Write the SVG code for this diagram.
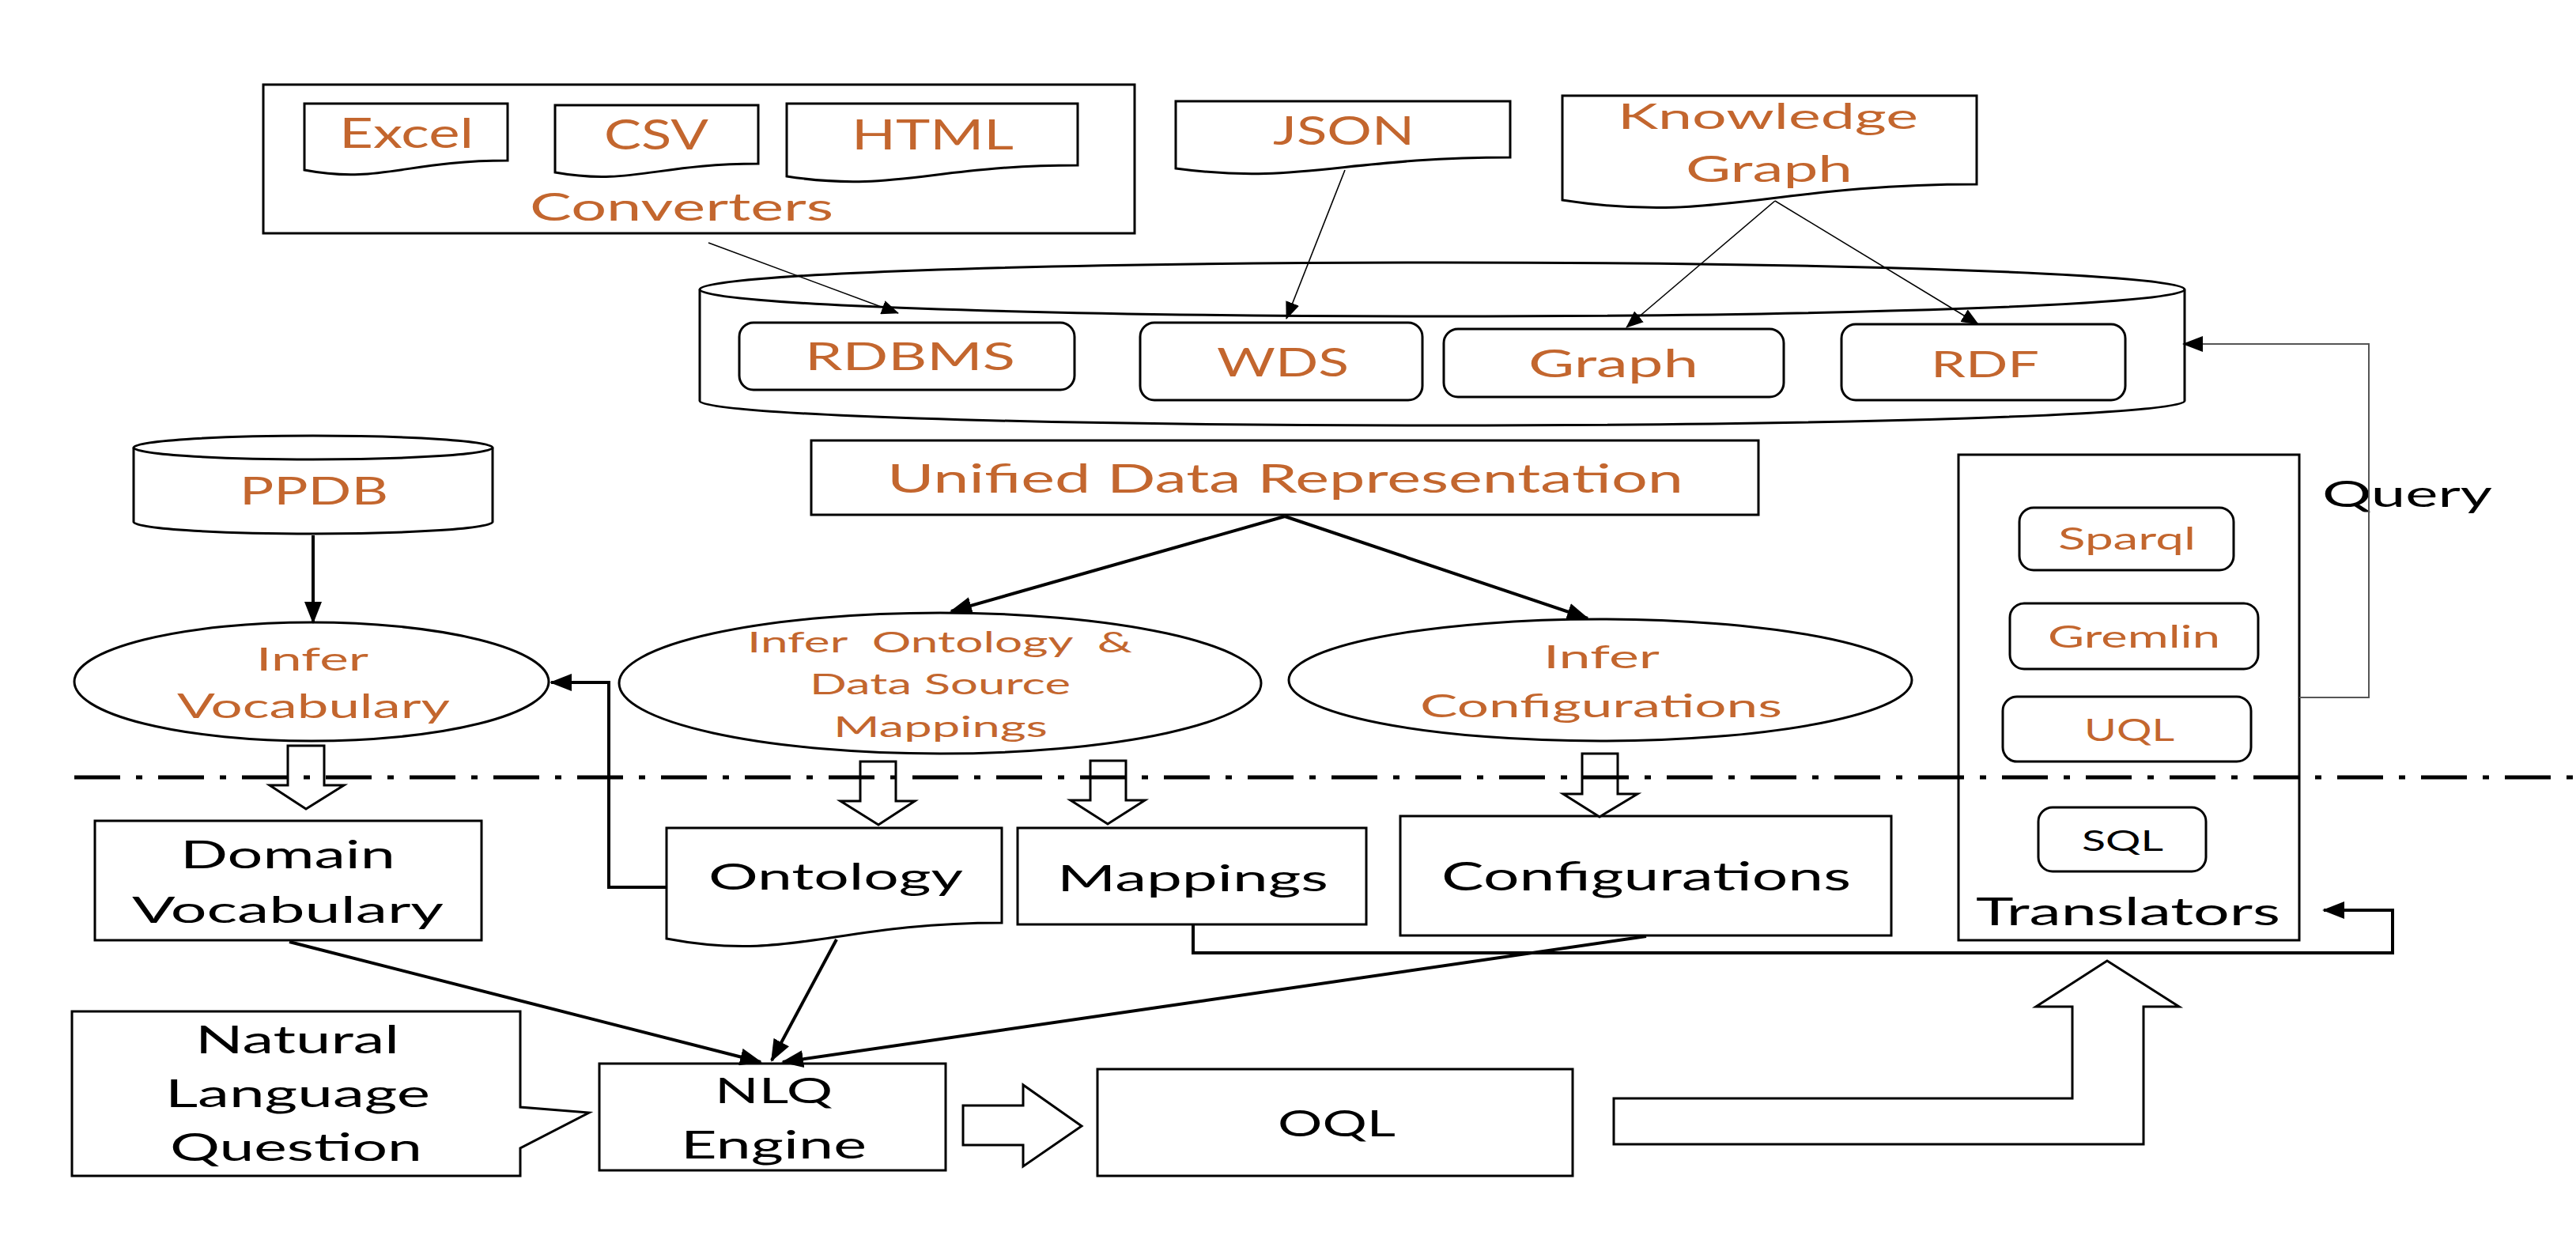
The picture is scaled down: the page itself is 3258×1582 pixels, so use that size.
<svg xmlns="http://www.w3.org/2000/svg" width="3258" height="1582" viewBox="0 0 3258 1582">
<style>
text { font-family: Lato, "Liberation Sans", sans-serif; }
.o { fill: #C3662E; }
.k { fill: #000; }
.s { fill: #fff; stroke: #000; stroke-width: 3; }
.c { fill: none; stroke: #000; stroke-width: 1.6; }
.t { fill: none; stroke: #000; stroke-width: 4; }
.q { fill: none; stroke: #555; stroke-width: 2; }
.dd { fill: none; stroke: #000; stroke-width: 5; stroke-dasharray: 58 20 8 20; }
</style>
<defs>
<marker id="ah" markerWidth="22" markerHeight="18" refX="21" refY="9" orient="auto" markerUnits="userSpaceOnUse"><path d="M0,0 L22,9 L0,18 z" fill="#000"/></marker>
<marker id="ahq" markerWidth="26" markerHeight="20" refX="25" refY="10" orient="auto" markerUnits="userSpaceOnUse"><path d="M0,0 L26,10 L0,20 z" fill="#000"/></marker>
<marker id="aht" markerWidth="28" markerHeight="22" refX="26" refY="11" orient="auto" markerUnits="userSpaceOnUse"><path d="M0,0 L28,11 L0,22 z" fill="#000"/></marker>
</defs>

<g id="converters">
<rect class="s" x="333" y="107" width="1102" height="188"/>
<text class="o" x="670" y="279" font-size="49" textLength="384" lengthAdjust="spacingAndGlyphs">Converters</text>
</g>
<g id="excel">
<path class="s" d="M385,131 H642 V203 C514,203 480,233 385,215 Z"/>
<text class="o" x="429" y="187" font-size="52" textLength="170" lengthAdjust="spacingAndGlyphs">Excel</text>
</g>
<g id="csv">
<path class="s" d="M702,133 H959 V207 C831,207 797,235 702,218 Z"/>
<text class="o" x="764" y="189" font-size="52" textLength="132" lengthAdjust="spacingAndGlyphs">CSV</text>
</g>
<g id="html">
<path class="s" d="M995,131 H1363 V209 C1179,209 1131,244 995,223 Z"/>
<text class="o" x="1077" y="189" font-size="52" textLength="205" lengthAdjust="spacingAndGlyphs">HTML</text>
</g>
<g id="json">
<path class="s" d="M1487,128 H1910 V199 C1698,199 1643,234 1487,213 Z"/>
<text class="o" x="1610" y="183" font-size="50" textLength="179" lengthAdjust="spacingAndGlyphs">JSON</text>
</g>
<g id="knowledge-graph">
<path class="s" d="M1976,121 H2500 V233 C2238,233 2170,283 1976,253 Z"/>
<text class="o" x="2046" y="163" font-size="45" textLength="380" lengthAdjust="spacingAndGlyphs">Knowledge</text>
<text class="o" x="2132" y="230" font-size="47" textLength="211" lengthAdjust="spacingAndGlyphs">Graph</text>
</g>

<g id="datastore">
<path class="s" d="M885,366 V507 A939,31 0 0 0 2763,507 V366"/>
<ellipse class="s" cx="1824" cy="366" rx="939" ry="34"/>
</g>
<g id="rdbms">
<rect class="s" x="935" y="408" width="424" height="85" rx="18"/>
<text class="o" x="1018" y="468" font-size="49" textLength="266" lengthAdjust="spacingAndGlyphs">RDBMS</text>
</g>
<g id="wds">
<rect class="s" x="1442" y="408" width="357" height="98" rx="18"/>
<text class="o" x="1539" y="476" font-size="50" textLength="167" lengthAdjust="spacingAndGlyphs">WDS</text>
</g>
<g id="graph">
<rect class="s" x="1826" y="416" width="430" height="86" rx="18"/>
<text class="o" x="1933" y="477" font-size="49" textLength="215" lengthAdjust="spacingAndGlyphs">Graph</text>
</g>
<g id="rdf">
<rect class="s" x="2329" y="410" width="359" height="96" rx="18"/>
<text class="o" x="2442" y="477" font-size="47" textLength="137" lengthAdjust="spacingAndGlyphs">RDF</text>
</g>

<g id="udr">
<rect class="s" x="1026" y="557" width="1198" height="94"/>
<text class="o" x="1122" y="623" font-size="50" textLength="1007" lengthAdjust="spacingAndGlyphs">Unified Data Representation</text>
</g>

<g id="ppdb">
<path class="s" d="M169,566 V660 A227,15 0 0 0 623,660 V566"/>
<ellipse class="s" cx="396" cy="566" rx="227" ry="15"/>
<text class="o" x="303" y="638" font-size="49" textLength="188" lengthAdjust="spacingAndGlyphs">PPDB</text>
</g>

<g id="infer-vocabulary">
<ellipse class="s" cx="394" cy="862" rx="300" ry="75"/>
<text class="o" x="324" y="848" font-size="40" textLength="142" lengthAdjust="spacingAndGlyphs">Infer</text>
<text class="o" x="224" y="908" font-size="42" textLength="345" lengthAdjust="spacingAndGlyphs">Vocabulary</text>
</g>
<g id="infer-ontology">
<ellipse class="s" cx="1189" cy="864" rx="406" ry="89"/>
<text class="o" x="945" y="825" font-size="36" textLength="487" lengthAdjust="spacingAndGlyphs" style="white-space:pre">Infer  Ontology  &amp;</text>
<text class="o" x="1024" y="878" font-size="36" textLength="330" lengthAdjust="spacingAndGlyphs">Data Source</text>
<text class="o" x="1054" y="932" font-size="36" textLength="271" lengthAdjust="spacingAndGlyphs">Mappings</text>
</g>
<g id="infer-configurations">
<ellipse class="s" cx="2024" cy="860" rx="394" ry="77"/>
<text class="o" x="1952" y="845" font-size="40" textLength="147" lengthAdjust="spacingAndGlyphs">Infer</text>
<text class="o" x="1796" y="907" font-size="40" textLength="458" lengthAdjust="spacingAndGlyphs">Configurations</text>
</g>

<g id="translators">
<rect class="s" x="2477" y="575" width="431" height="614"/>
<rect class="s" x="2554" y="642" width="271" height="79" rx="18"/>
<text class="o" x="2603" y="695" font-size="38" textLength="174" lengthAdjust="spacingAndGlyphs">Sparql</text>
<rect class="s" x="2542" y="763" width="314" height="83" rx="18"/>
<text class="o" x="2590" y="819" font-size="38" textLength="218" lengthAdjust="spacingAndGlyphs">Gremlin</text>
<rect class="s" x="2533" y="881" width="314" height="82" rx="18"/>
<text class="o" x="2636" y="937" font-size="38" textLength="114" lengthAdjust="spacingAndGlyphs">UQL</text>
<rect class="s" x="2578" y="1021" width="212" height="81" rx="18"/>
<text class="k" x="2633" y="1076" font-size="37" textLength="103" lengthAdjust="spacingAndGlyphs">SQL</text>
<text class="k" x="2499" y="1170" font-size="49" textLength="385" lengthAdjust="spacingAndGlyphs">Translators</text>
</g>

<g id="domain-vocabulary">
<rect class="s" x="120" y="1038" width="489" height="151"/>
<text class="k" x="228" y="1098" font-size="49" textLength="272" lengthAdjust="spacingAndGlyphs">Domain</text>
<text class="k" x="167" y="1167" font-size="47" textLength="394" lengthAdjust="spacingAndGlyphs">Vocabulary</text>
</g>
<g id="ontology">
<path class="s" d="M843,1047 H1267 V1167 C1055,1167 1000,1217 843,1187 Z"/>
<text class="k" x="896" y="1125" font-size="46" textLength="322" lengthAdjust="spacingAndGlyphs">Ontology</text>
</g>
<g id="mappings">
<rect class="s" x="1287" y="1047" width="441" height="122"/>
<text class="k" x="1337" y="1127" font-size="46" textLength="343" lengthAdjust="spacingAndGlyphs">Mappings</text>
</g>
<g id="configurations">
<rect class="s" x="1771" y="1032" width="621" height="151"/>
<text class="k" x="1823" y="1126" font-size="50" textLength="518" lengthAdjust="spacingAndGlyphs">Configurations</text>
</g>

<g id="nl-question">
<path class="s" d="M91,1279 H658 V1400 L745,1407 L658,1452 V1487 H91 Z"/>
<text class="k" x="247" y="1332" font-size="49" textLength="258" lengthAdjust="spacingAndGlyphs">Natural</text>
<text class="k" x="209" y="1400" font-size="49" textLength="335" lengthAdjust="spacingAndGlyphs">Language</text>
<text class="k" x="215" y="1468" font-size="49" textLength="319" lengthAdjust="spacingAndGlyphs">Question</text>
</g>
<g id="nlq-engine">
<rect class="s" x="758" y="1345" width="438" height="135"/>
<text class="k" x="904" y="1395" font-size="45" textLength="149" lengthAdjust="spacingAndGlyphs">NLQ</text>
<text class="k" x="861" y="1465" font-size="49" textLength="235" lengthAdjust="spacingAndGlyphs">Engine</text>
</g>
<g id="oql">
<rect class="s" x="1388" y="1352" width="601" height="135"/>
<text class="k" x="1616" y="1437" font-size="47" textLength="149" lengthAdjust="spacingAndGlyphs">OQL</text>
</g>

<g id="query-label">
<text class="k" x="2937" y="641" font-size="47" textLength="215" lengthAdjust="spacingAndGlyphs">Query</text>
</g>

<g id="connectors">
<line class="c" x1="896" y1="307" x2="1136" y2="396" marker-end="url(#ah)"/>
<line class="c" x1="1701" y1="215" x2="1627" y2="403" marker-end="url(#ah)"/>
<line class="c" x1="2245" y1="254" x2="2057" y2="414" marker-end="url(#ah)"/>
<line class="c" x1="2245" y1="254" x2="2502" y2="410" marker-end="url(#ah)"/>
<line class="t" x1="1625" y1="653" x2="1203" y2="773" marker-end="url(#aht)"/>
<line class="t" x1="1625" y1="653" x2="2008" y2="782" marker-end="url(#aht)"/>
<line class="t" x1="396" y1="677" x2="396" y2="787" marker-end="url(#aht)"/>
<path class="t" d="M843,1122 H770 V863 H697" marker-end="url(#aht)"/>
<path class="q" d="M2908,882 H2996 V435 H2761" marker-end="url(#ahq)"/>
<path class="t" d="M1509,1169 V1205 H3026 V1151 H2939" marker-end="url(#aht)"/>
<line class="t" x1="366" y1="1191" x2="962" y2="1343" marker-end="url(#aht)"/>
<line class="t" x1="1058" y1="1188" x2="976" y2="1341" marker-end="url(#aht)"/>
<line class="t" x1="2082" y1="1184" x2="990" y2="1343" marker-end="url(#aht)"/>
<polygon class="s" points="364,943 410,943 410,993 435,993 387,1023 341,993 364,993"/>
<polygon class="s" points="1088,963 1133,963 1133,1013 1157,1013 1111,1043 1063,1013 1088,1013"/>
<polygon class="s" points="1379,962 1424,962 1424,1012 1448,1012 1401,1042 1354,1012 1379,1012"/>
<polygon class="s" points="2001,953 2046,953 2046,1004 2071,1004 2023,1033 1977,1004 2001,1004"/>
<polygon class="s" points="1218,1398 1294,1398 1294,1372 1368,1424 1294,1475 1294,1448 1218,1448"/>
<polygon class="s" points="2041,1389 2621,1389 2621,1273 2575,1273 2665,1215 2756,1273 2711,1273 2711,1447 2041,1447"/>
<line class="dd" x1="94" y1="983" x2="3258" y2="983"/>
</g>
</svg>
